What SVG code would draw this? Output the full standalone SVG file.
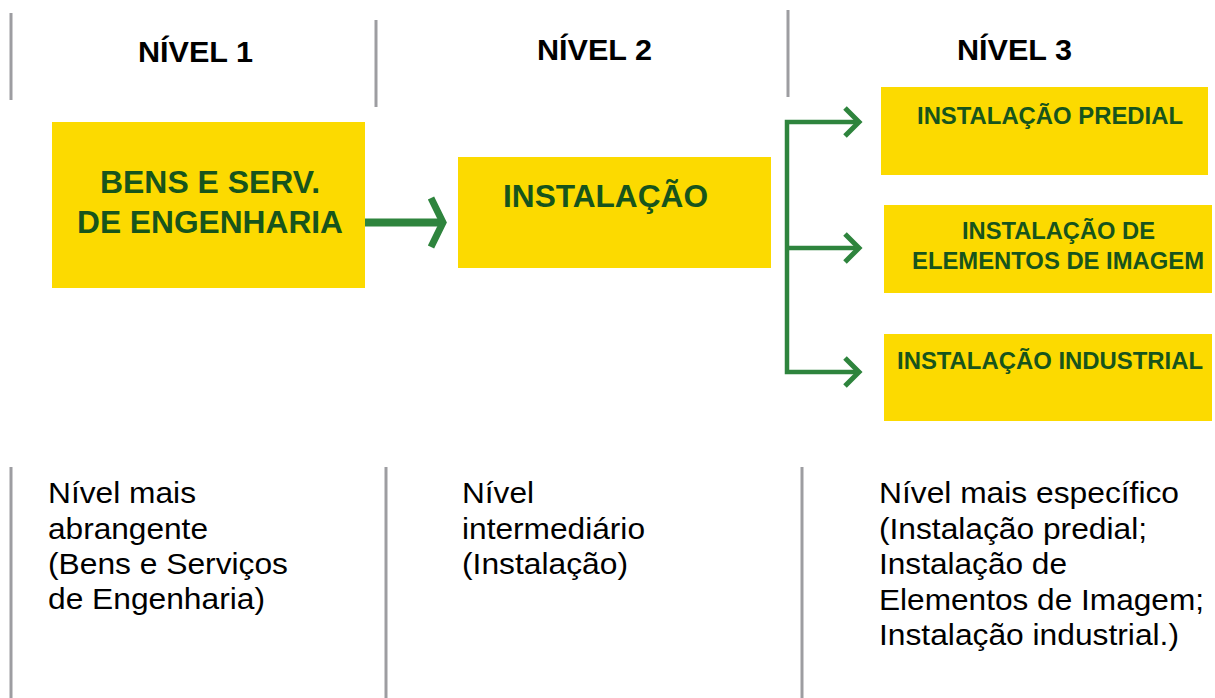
<svg xmlns="http://www.w3.org/2000/svg" width="1215" height="698" viewBox="0 0 1215 698">
<style>
.sep{stroke:#9d9da1;stroke-width:3;fill:none}
.box{fill:#FCDA00}
.hdr{font-family:"Liberation Sans",Arial,sans-serif;font-weight:bold;font-size:30px;fill:#000}
.bt{font-family:"Liberation Sans",Arial,sans-serif;font-weight:bold;fill:#17541C}
.desc{font-family:"Liberation Sans",Arial,sans-serif;font-size:30px;fill:#000}
.con{stroke:#2E843D;fill:none}
</style>
<rect width="1215" height="698" fill="#fff"/>
<g id="separators">
<line class="sep" x1="11" y1="13" x2="11" y2="100"/>
<line class="sep" x1="376" y1="20" x2="376" y2="107"/>
<line class="sep" x1="788" y1="10" x2="788" y2="97"/>
<line class="sep" x1="11" y1="467" x2="11" y2="698"/>
<line class="sep" x1="386" y1="467" x2="386" y2="698"/>
<line class="sep" x1="802" y1="467" x2="802" y2="698"/>
</g>
<g id="headers">
<text class="hdr" x="138" y="62" textLength="115" lengthAdjust="spacingAndGlyphs">NÍVEL 1</text>
<text class="hdr" x="537" y="60" textLength="115" lengthAdjust="spacingAndGlyphs">NÍVEL 2</text>
<text class="hdr" x="957" y="60" textLength="115" lengthAdjust="spacingAndGlyphs">NÍVEL 3</text>
</g>
<g id="connectors">
<line class="con" x1="365" y1="222.5" x2="442" y2="222.5" stroke-width="8"/>
<polyline class="con" points="431,198 443,222.5 431,247" stroke-width="7"/>
<polyline class="con" points="859,122 787,122 787,372 859,372" stroke-width="4.5"/>
<line class="con" x1="787" y1="248" x2="859" y2="248" stroke-width="4.5"/>
<polyline class="con" points="845,108 859,122 845,136" stroke-width="5"/>
<polyline class="con" points="845,234 859,248 845,262" stroke-width="5"/>
<polyline class="con" points="845,358 859,372 845,386" stroke-width="5"/>
</g>
<g id="n1">
<rect class="box" x="52" y="122" width="313" height="166"/>
<text class="bt" x="100" y="193" font-size="31" textLength="220" lengthAdjust="spacingAndGlyphs">BENS E SERV.</text>
<text class="bt" x="77" y="232.5" font-size="31" textLength="266" lengthAdjust="spacingAndGlyphs">DE ENGENHARIA</text>
</g>
<g id="n2">
<rect class="box" x="458" y="157" width="313" height="111"/>
<text class="bt" x="503" y="207" font-size="31.5" textLength="205" lengthAdjust="spacingAndGlyphs">INSTALAÇÃO</text>
</g>
<g id="n3a">
<rect class="box" x="881" y="87" width="327" height="88"/>
<text class="bt" x="917" y="124" font-size="24" textLength="266" lengthAdjust="spacingAndGlyphs">INSTALAÇÃO PREDIAL</text>
</g>
<g id="n3b">
<rect class="box" x="884" y="205" width="328" height="88"/>
<text class="bt" x="962" y="239" font-size="24" textLength="193" lengthAdjust="spacingAndGlyphs">INSTALAÇÃO DE</text>
<text class="bt" x="912" y="269" font-size="24" textLength="292" lengthAdjust="spacingAndGlyphs">ELEMENTOS DE IMAGEM</text>
</g>
<g id="n3c">
<rect class="box" x="884" y="334" width="328" height="87"/>
<text class="bt" x="897" y="369" font-size="24" textLength="306" lengthAdjust="spacingAndGlyphs">INSTALAÇÃO INDUSTRIAL</text>
</g>
<g id="desc1">
<text class="desc" x="48" y="503" textLength="148" lengthAdjust="spacingAndGlyphs">Nível mais</text>
<text class="desc" x="48" y="538.5" textLength="160" lengthAdjust="spacingAndGlyphs">abrangente</text>
<text class="desc" x="48" y="574" textLength="240" lengthAdjust="spacingAndGlyphs">(Bens e Serviços</text>
<text class="desc" x="48" y="609" textLength="217" lengthAdjust="spacingAndGlyphs">de Engenharia)</text>
</g>
<g id="desc2">
<text class="desc" x="462" y="503" textLength="72" lengthAdjust="spacingAndGlyphs">Nível</text>
<text class="desc" x="462" y="538.5" textLength="183" lengthAdjust="spacingAndGlyphs">intermediário</text>
<text class="desc" x="462" y="574" textLength="166" lengthAdjust="spacingAndGlyphs">(Instalação)</text>
</g>
<g id="desc3">
<text class="desc" x="879" y="503" textLength="300" lengthAdjust="spacingAndGlyphs">Nível mais específico</text>
<text class="desc" x="879" y="538.5" textLength="268" lengthAdjust="spacingAndGlyphs">(Instalação predial;</text>
<text class="desc" x="879" y="574" textLength="188" lengthAdjust="spacingAndGlyphs">Instalação de</text>
<text class="desc" x="879" y="609.5" textLength="325" lengthAdjust="spacingAndGlyphs">Elementos de Imagem;</text>
<text class="desc" x="879" y="645" textLength="300" lengthAdjust="spacingAndGlyphs">Instalação industrial.)</text>
</g>
</svg>
